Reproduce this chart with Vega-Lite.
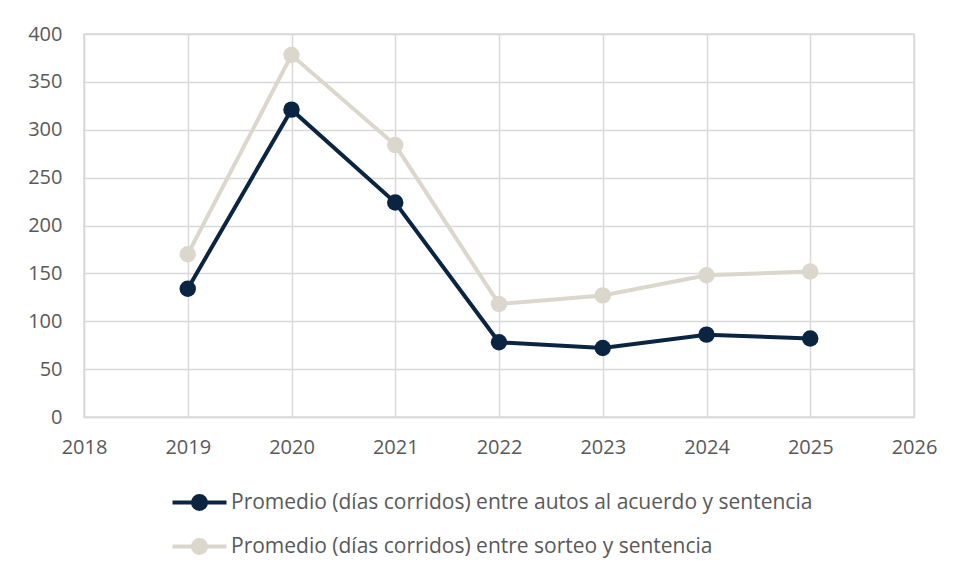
{
  "$schema": "https://vega.github.io/schema/vega-lite/v6.json",
  "width": 830,
  "height": 383,
  "autosize": {"type": "none"},
  "padding": {"left": 84, "top": 34, "right": 42, "bottom": 161},
  "background": "white",
  "config": {
    "font": "Open Sans",
    "view": {"stroke": "#D9D9D9", "strokeWidth": 1.5},
    "axis": {
      "gridColor": "#D9D9D9",
      "gridWidth": 1.5,
      "domainColor": "#D9D9D9",
      "domainWidth": 1.5,
      "ticks": false,
      "labelFont": "Open Sans",
      "labelFontSize": 20,
      "labelColor": "#595959",
      "title": null
    }
  },
  "data": {
    "values": [
      {"year": 2019, "serie": "Promedio (días corridos) entre autos al acuerdo y sentencia", "dias": 134},
      {"year": 2020, "serie": "Promedio (días corridos) entre autos al acuerdo y sentencia", "dias": 321},
      {"year": 2021, "serie": "Promedio (días corridos) entre autos al acuerdo y sentencia", "dias": 224},
      {"year": 2022, "serie": "Promedio (días corridos) entre autos al acuerdo y sentencia", "dias": 78},
      {"year": 2023, "serie": "Promedio (días corridos) entre autos al acuerdo y sentencia", "dias": 72},
      {"year": 2024, "serie": "Promedio (días corridos) entre autos al acuerdo y sentencia", "dias": 86},
      {"year": 2025, "serie": "Promedio (días corridos) entre autos al acuerdo y sentencia", "dias": 82},
      {"year": 2019, "serie": "Promedio (días corridos) entre sorteo y sentencia", "dias": 170},
      {"year": 2020, "serie": "Promedio (días corridos) entre sorteo y sentencia", "dias": 378},
      {"year": 2021, "serie": "Promedio (días corridos) entre sorteo y sentencia", "dias": 284},
      {"year": 2022, "serie": "Promedio (días corridos) entre sorteo y sentencia", "dias": 118},
      {"year": 2023, "serie": "Promedio (días corridos) entre sorteo y sentencia", "dias": 127},
      {"year": 2024, "serie": "Promedio (días corridos) entre sorteo y sentencia", "dias": 148},
      {"year": 2025, "serie": "Promedio (días corridos) entre sorteo y sentencia", "dias": 152}
    ]
  },
  "encoding": {
    "x": {
      "field": "year",
      "type": "quantitative",
      "scale": {"domain": [2018, 2026], "nice": false, "zero": false},
      "axis": {"values": [2018, 2019, 2020, 2021, 2022, 2023, 2024, 2025, 2026], "format": "d", "labelPadding": 20, "labelFlush": false}
    },
    "y": {
      "field": "dias",
      "type": "quantitative",
      "scale": {"domain": [0, 400], "nice": false},
      "axis": {"values": [0, 50, 100, 150, 200, 250, 300, 350, 400], "labelPadding": 22}
    },
    "color": {
      "field": "serie",
      "type": "nominal",
      "sort": null,
      "scale": {
        "domain": ["Promedio (días corridos) entre autos al acuerdo y sentencia", "Promedio (días corridos) entre sorteo y sentencia"],
        "range": ["#0B2442", "#DCD7CD"]
      },
      "legend": {
        "title": null,
        "orient": "none",
        "legendX": 91,
        "legendY": 444,
        "direction": "vertical",
        "padding": 0,
        "rowPadding": 4,
        "symbolType": "M-1.2,0L1.2,0M0.29,0A0.29,0.29,0,1,1,-0.29,0A0.29,0.29,0,1,1,0.29,0Z",
        "symbolSize": 2025,
        "symbolStrokeWidth": 4,
        "labelFont": "Open Sans",
        "labelFontSize": 21,
        "labelColor": "#595959",
        "labelOffset": 7,
        "labelLimit": 800,
        "encode": {
          "symbols": {
            "update": {
              "fill": {"scale": "color", "field": "value"},
              "stroke": {"scale": "color", "field": "value"},
              "fillOpacity": {"value": 1},
              "strokeOpacity": {"value": 1}
            }
          }
        }
      }
    }
  },
  "layer": [
    {"mark": {"type": "line", "strokeWidth": 4}},
    {"mark": {"type": "point", "filled": true, "shape": "circle", "size": 270, "opacity": 1}}
  ]
}
